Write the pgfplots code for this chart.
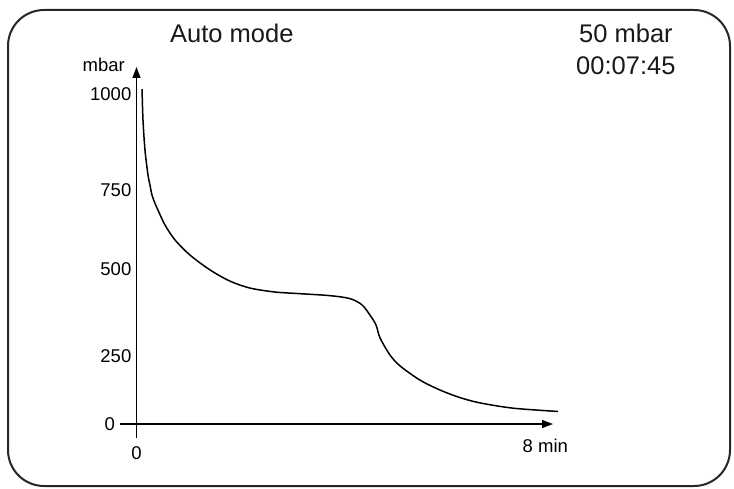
\documentclass[border=0pt]{standalone}
\usepackage{pgfplots}
\pgfplotsset{compat=1.18}
\usepackage{fontspec}
\setmainfont{Liberation Sans}
\usetikzlibrary{arrows.meta}
\begin{document}
\begin{tikzpicture}[x=1pt,y=1pt]
\useasboundingbox (0,0) rectangle (734,488);
\draw[line width=2pt, rounded corners=36pt, color=black!85] (8,2) rectangle (730,478);
\node[anchor=base west, font=\fontsize{25.5}{30}\selectfont, inner sep=0pt, text=black!90] at (170,445) {Auto mode};
\node[anchor=base west, font=\fontsize{25.5}{30}\selectfont, inner sep=0pt, text=black!90] at (579,445) {50 mbar};
\node[anchor=base west, font=\fontsize{25.5}{30}\selectfont, inner sep=0pt, text=black!90] at (576,413) {00:07:45};
\begin{axis}[
  at={(120pt,50pt)}, anchor=south west,
  scale only axis, width=433pt, height=371pt,
  xmin=-0.323, xmax=8.15, ymin=-42.4, ymax=1082,
  axis lines=middle,
  axis line style={line width=1.4pt, -{Triangle[length=11pt,width=8pt]}},
  major tick length=0pt,
  xtick={8}, xticklabels={8 min},
  ytick={206,470,709,1000}, yticklabels={250,500,750,1000},
  tick label style={font=\fontsize{18.5}{21}\selectfont, inner sep=0pt},
  xticklabel style={anchor=north, yshift=-15pt},
  yticklabel style={anchor=east, xshift=-5pt},
  /pgf/number format/assume math mode=true,
  clip=false,
]
\addplot[line width=1.5pt, black, smooth] coordinates {
(0.108,1015) (0.127,921) (0.166,830) (0.225,755) (0.264,724) (0.303,694)
(0.358,670) (0.421,648)
(0.558,603) (0.753,558) (1.047,512) (1.438,467) (1.830,433) (2.221,412)
(2.710,400) (3.200,395) (3.787,389) (4.178,380) (4.413,361) (4.569,330)
(4.687,300) (4.765,261) (4.961,209) (5.157,176) (5.548,133) (5.939,103)
(6.331,80) (6.722,64) (7.368,48) (8.249,38)
};
\node[anchor=east, inner sep=0pt, font=\fontsize{18.5}{21}\selectfont] at (axis cs:-0.42,0) {0};
\node[inner sep=0pt, font=\fontsize{18.5}{21}\selectfont] at (axis cs:0,-88) {0};
\node[anchor=base east, inner sep=0pt, font=\fontsize{18.5}{21}\selectfont] at (axis cs:-0.225,1067) {mbar};
\end{axis}
\end{tikzpicture}
\end{document}
